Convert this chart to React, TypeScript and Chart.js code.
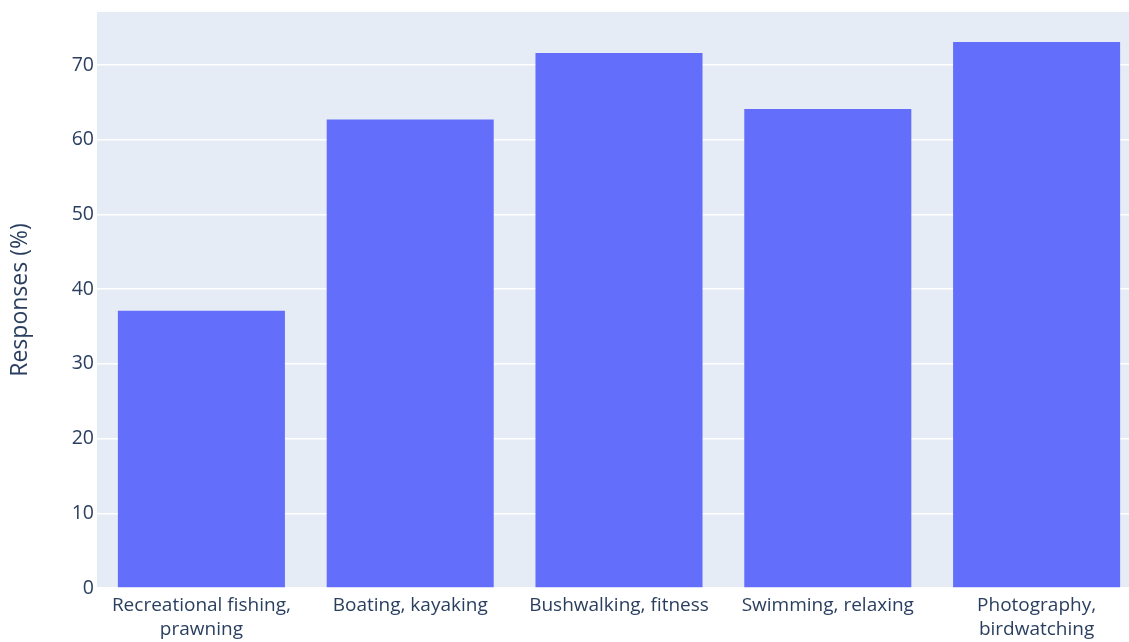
import React, { useEffect, useRef } from "react";
import { Chart, registerables } from "chart.js";

Chart.register(...registerables);

const categories: (string | string[])[] = [
  ["Recreational fishing,", "prawning"],
  "Boating, kayaking",
  "Bushwalking, fitness",
  "Swimming, relaxing",
  ["Photography,", "birdwatching"],
];
const responses = [37.1, 62.7, 71.6, 64.1, 73.1];
const yTickStep = 10;
const yMax = 77.1;

const bgPlugin = {
  id: "plotBg",
  beforeDraw(chart: any) {
    const { ctx, chartArea } = chart;
    ctx.save();
    ctx.fillStyle = "#e5ecf6";
    ctx.fillRect(chartArea.left, chartArea.top, chartArea.right - chartArea.left, chartArea.bottom - chartArea.top);
    ctx.restore();
  },
};

export default function App() {
  const ref = useRef<HTMLCanvasElement>(null);
  useEffect(() => {
    document.body.style.margin = "0";
    document.body.style.overflow = "hidden";
    const chart = new Chart(ref.current!, {
      type: "bar",
      data: {
        labels: categories as any,
        datasets: [
          {
            data: responses,
            backgroundColor: "#636efa",
            borderWidth: 0,
            barPercentage: 0.8,
            categoryPercentage: 1,
          },
        ],
      },
      options: {
        animation: false,
        responsive: false,
        layout: { padding: { top: 12, right: 4, left: 0, bottom: 0 } },
        plugins: { legend: { display: false }, tooltip: { enabled: false } },
        scales: {
          x: {
            grid: { display: false, drawTicks: false },
            border: { display: false },
            ticks: {
              color: "#2a3f5f",
              font: { family: "Open Sans", size: 19, lineHeight: 1.3 },
              padding: 5,
              maxRotation: 0,
              autoSkip: false,
            },
            afterFit(scale: any) {
              scale.height = 54;
              scale.paddingLeft = 0;
              scale.paddingRight = 0;
            },
          },
          y: {
            min: 0,
            max: yMax,
            grid: { color: "#ffffff", lineWidth: 1.5, drawTicks: false },
            border: { display: false },
            ticks: {
              stepSize: yTickStep,
              color: "#2a3f5f",
              font: { family: "Open Sans", size: 19.5 },
              padding: 3,
            },
            afterBuildTicks(scale: any) {
              scale.ticks = scale.ticks.filter((t: any) => Math.abs(t.value % yTickStep) < 1e-6);
            },
            afterFit(scale: any) {
              scale.width = 97;
              scale.paddingTop = 0;
              scale.paddingBottom = 0;
            },
            title: {
              display: true,
              text: "Responses (%)",
              color: "#2a3f5f",
              font: { family: "Open Sans", size: 23, lineHeight: 1.2 },
              padding: { top: 7, bottom: 0 },
            },
          },
        },
      },
      plugins: [bgPlugin],
    });
    return () => chart.destroy();
  }, []);
  return (
    <div style={{ width: 1129, height: 642, overflow: "hidden" }}>
      <canvas ref={ref} width={1145} height={642} style={{ display: "block" }} />
    </div>
  );
}
